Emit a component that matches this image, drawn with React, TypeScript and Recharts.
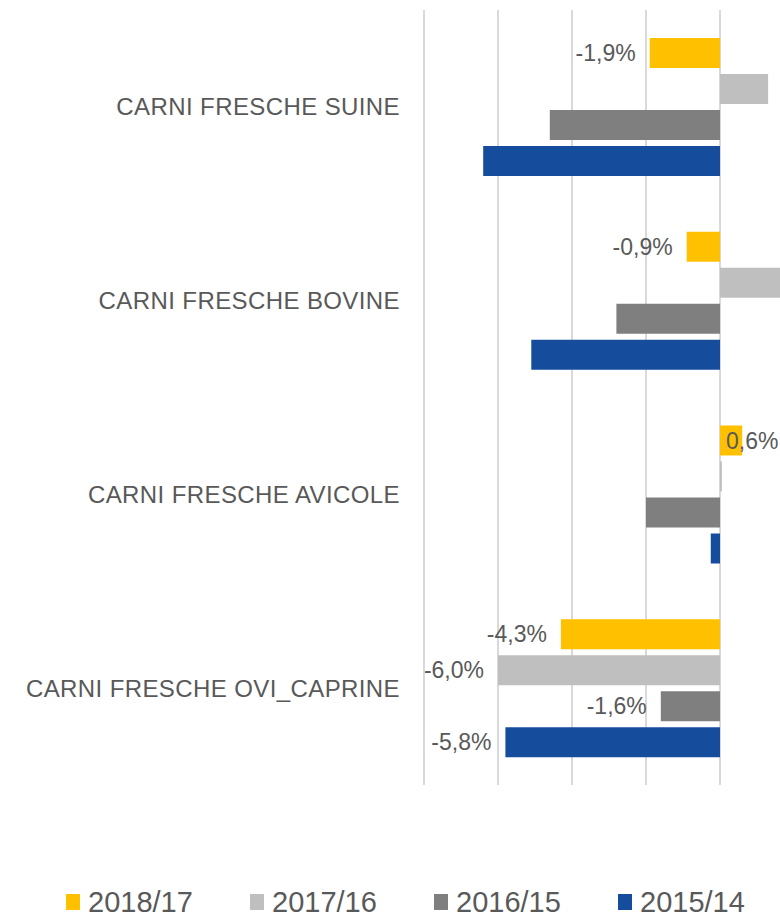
import React from 'react';
import { BarChart, Bar, XAxis, YAxis, CartesianGrid, LabelList } from 'recharts';

const CATEGORIES = [
    'CARNI FRESCHE SUINE',
    'CARNI FRESCHE BOVINE',
    'CARNI FRESCHE AVICOLE',
    'CARNI FRESCHE OVI_CAPRINE',
];

const SERIES = ['2018/17', '2017/16', '2016/15', '2015/14'];
const COLORS = ['#FFC000', '#BFBFBF', '#7F7F7F', '#164C9C'];

const V_2018_17 = [-1.9, -0.9, 0.6, -4.3];
const V_2017_16 = [1.3, 1.7, 0.05, -6.0];
const V_2016_15 = [-4.6, -2.8, -2.0, -1.6];
const V_2015_14 = [-6.4, -5.1, -0.25, -5.8];

// which bars carry a value label
const LABEL_SERIES = ['2018/17'];
const LABEL_CATEGORY = 'CARNI FRESCHE OVI_CAPRINE';

const X_TICKS = [-8, -6, -4, -2, 0, 2];

const FONT = '"Liberation Sans", Arial, sans-serif';
const TEXT = '#595959';

const data = CATEGORIES.map((name, i) => ({
    name,
    '2018/17': V_2018_17[i],
    '2017/16': V_2017_16[i],
    '2016/15': V_2016_15[i],
    '2015/14': V_2015_14[i],
}));

const fmt = (v: number) => v.toFixed(1).replace('.', ',') + '%';

function makeLabel(series: string) {
    return (props: any) => {
        const { x, y, width, height, value, index } = props;
        if (!LABEL_SERIES.includes(series) && CATEGORIES[index] !== LABEL_CATEGORY) return null;
        const v = Number(value);
        const cy = y + height / 2;
        if (v < 0) {
            const left = Math.min(x, x + width);
            return (
                <text x={left - 14} y={cy} dy="0.35em" textAnchor="end" fontSize={23} fill={TEXT} fontFamily={FONT}>
                    {fmt(v)}
                </text>
            );
        }
        // positive label overlaps the bar end, kept inside the visible area
        const right = Math.max(x, x + width);
        return (
            <text x={Math.min(right - 8, 726)} y={cy} dy="0.35em" textAnchor="start" fontSize={23} fill={TEXT} fontFamily={FONT}>
                {fmt(v)}
            </text>
        );
    };
}

export default function App() {
    return (
        <div style={{ position: 'fixed', left: 0, top: 0, width: 780, height: 920, overflow: 'hidden', background: '#fff' }}>
            <BarChart
                width={900}
                height={920}
                data={data}
                layout="vertical"
                margin={{ top: 10, right: 106, bottom: 135, left: 0 }}
                barSize={30}
                barGap={6}
            >
                <CartesianGrid horizontal={false} stroke="#D9D9D9" strokeWidth={2} />
                <XAxis type="number" domain={[-8, 2]} ticks={X_TICKS} hide />
                <YAxis
                    type="category"
                    dataKey="name"
                    width={424}
                    axisLine={false}
                    tickLine={false}
                    tickSize={0}
                    tickMargin={24}
                    tick={{ fontSize: 24, fill: TEXT, fontFamily: FONT, letterSpacing: 0.4 }}
                />
                {SERIES.map((s, i) => (
                    <Bar key={s} dataKey={s} fill={COLORS[i]} isAnimationActive={false}>
                        <LabelList dataKey={s} content={makeLabel(s)} />
                    </Bar>
                ))}
            </BarChart>
            <div style={{ position: 'absolute', left: 66, top: 888, display: 'flex', fontFamily: FONT, color: TEXT, fontSize: 29, lineHeight: '28px' }}>
                {SERIES.map((s, i) => (
                    <div key={s} style={{ display: 'flex', alignItems: 'center', width: 184 }}>
                        <span style={{ display: 'inline-block', width: 14, height: 16, background: COLORS[i], marginRight: 8 }} />
                        <span>{s}</span>
                    </div>
                ))}
            </div>
        </div>
    );
}
